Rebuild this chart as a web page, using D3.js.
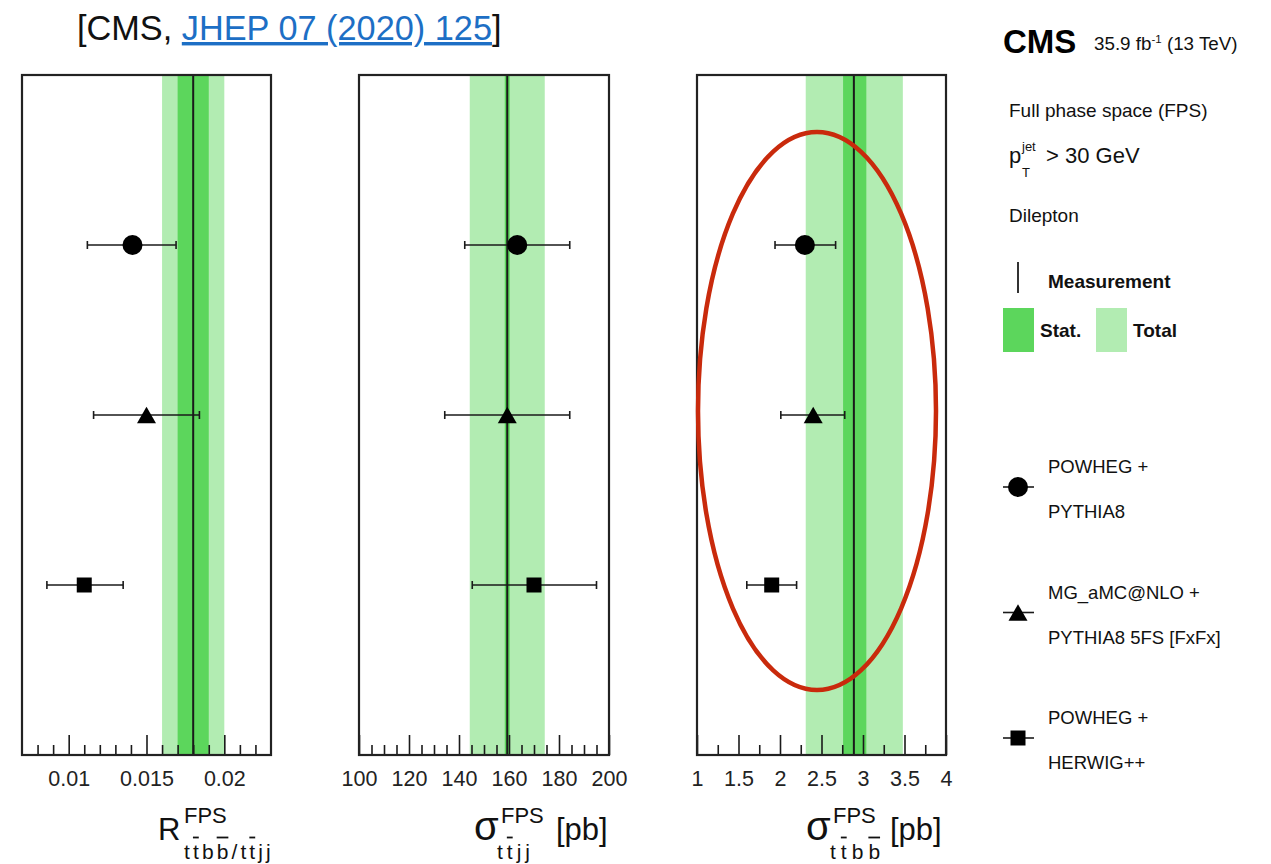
<!DOCTYPE html>
<html>
<head>
<meta charset="utf-8">
<script src="https://cdn.jsdelivr.net/npm/d3@7"></script>
<style>
  body { margin: 0; background: #fff; }
  svg { display: block; }
  text { font-family: "Liberation Sans", Arial, Helvetica, sans-serif; }
</style>
</head>
<body>
<svg id="chart" width="1271" height="864"></svg>
<script>
// ---------------- data ----------------
const models = ["POWHEG + PYTHIA8", "MG_aMC@NLO + PYTHIA8 5FS [FxFx]", "POWHEG + HERWIG++"];
const modelLegendLines = [["POWHEG +", "PYTHIA8"], ["MG_aMC@NLO +", "PYTHIA8 5FS [FxFx]"], ["POWHEG +", "HERWIG++"]];
const modelMarkers = ["circle", "triangle", "square"];

// measured values per observable: R(ttbb/ttjj), sigma(ttjj) [pb], sigma(ttbb) [pb]
const measured   = [0.0180, 159.3, 2.89];
const statLow    = [0.0170, 158.3, 2.76];
const statHigh   = [0.0190, 160.3, 3.04];
const totalLow   = [0.0160, 144.3, 2.31];
const totalHigh  = [0.0200, 174.3, 3.48];

// predictions (central, low, high) per observable, in model order
const predRatio     = [0.0141, 0.0150, 0.0110];
const predRatioLow  = [0.0112, 0.0116, 0.0086];
const predRatioHigh = [0.0169, 0.0184, 0.0135];

const predTtjj     = [163.3, 159.3, 170.0];
const predTtjjLow  = [142.3, 134.3, 145.3];
const predTtjjHigh = [184.3, 184.3, 195.0];

const predTtbb     = [2.30, 2.40, 1.90];
const predTtbbLow  = [1.94, 2.01, 1.60];
const predTtbbHigh = [2.67, 2.78, 2.20];

// axes
const axisDomains = [[0.007, 0.023], [100, 200], [1, 4]];
const majorTicks = [[0.01, 0.015, 0.02], [100, 120, 140, 160, 180, 200], [1, 1.5, 2, 2.5, 3, 3.5, 4]];
const tickLabels = [["0.01", "0.015", "0.02"], ["100", "120", "140", "160", "180", "200"], ["1", "1.5", "2", "2.5", "3", "3.5", "4"]];
const minorSteps = [0.001, 5, 0.25];

const axisTitleMain = ["R", "σ", "σ"];
const axisTitleSup  = ["FPS", "FPS", "FPS"];
const axisTitleSub  = ["ttbb/ttjj", "ttjj", "ttbb"];
const axisTitleSubBars = [[1, 3, 6], [1], [1, 3]];
const axisTitleUnit = ["", "[pb]", "[pb]"];

// ---------------- layout ----------------
const plotTop = 75, plotBottom = 755;
const panelRanges = [[22, 271], [359, 609], [697, 946]];
const statColor = "#5cd65c", totalColor = "#b2ecb2";
const ink = "#1a1a1a";

const svg = d3.select("#chart");

const preds = [
  [predRatio, predRatioLow, predRatioHigh],
  [predTtjj, predTtjjLow, predTtjjHigh],
  [predTtbb, predTtbbLow, predTtbbHigh]
];

const y = d3.scalePoint().domain(models).range([plotTop, plotBottom]).padding(1);

// triangle centred on its bounding box (as ROOT draws marker 22)
const boxTriangle = {
  draw(ctx, size) {
    const s = Math.sqrt(size), h = s * 0.866;
    ctx.moveTo(0, -h / 2);
    ctx.lineTo(s / 2, h / 2);
    ctx.lineTo(-s / 2, h / 2);
    ctx.closePath();
  }
};
const symbolFor = {
  circle: d3.symbol().type(d3.symbolCircle).size(Math.PI * 10 * 10),
  triangle: d3.symbol().type(boxTriangle).size(19 * 19),
  square: d3.symbol().type(d3.symbolSquare).size(15 * 15)
};

const mainX = [158, 474, 806];
const supX  = [184, 501, 833];
const subX  = [184, 497, 830];
const subGap = [3.1, 4, 5];
const unitX = [0, 556, 890];

// subscript written glyph by glyph so barred letters (anti-quarks) get an overline
function barredSubscript(g, str, bars, x0, baseline, size, gap) {
  let cx = x0;
  [...str].forEach((ch, i) => {
    const t = g.append("text").attr("x", cx).attr("y", baseline)
      .attr("font-size", size).attr("fill", "#111").text(ch);
    const w = t.node().getComputedTextLength();
    if (bars.includes(i)) {
      g.append("line")
        .attr("x1", cx).attr("x2", cx + w)
        .attr("y1", baseline - size - 0.5).attr("y2", baseline - size - 0.5)
        .attr("stroke", "#111").attr("stroke-width", 1.8);
    }
    cx += w + gap;
  });
}

panelRanges.forEach((range, p) => {
  const x = d3.scaleLinear().domain(axisDomains[p]).range(range);
  const g = svg.append("g");

  // uncertainty bands
  g.append("rect")
    .attr("x", x(totalLow[p])).attr("y", plotTop)
    .attr("width", x(totalHigh[p]) - x(totalLow[p])).attr("height", plotBottom - plotTop)
    .attr("fill", totalColor);
  g.append("rect")
    .attr("x", x(statLow[p])).attr("y", plotTop)
    .attr("width", x(statHigh[p]) - x(statLow[p])).attr("height", plotBottom - plotTop)
    .attr("fill", statColor);

  // measured value
  g.append("line")
    .attr("x1", x(measured[p])).attr("x2", x(measured[p]))
    .attr("y1", plotTop).attr("y2", plotBottom)
    .attr("stroke", ink).attr("stroke-width", 2);

  // minor ticks
  const [d0, d1] = axisDomains[p];
  const step = minorSteps[p];
  const minors = d3.range(Math.round(d0 / step) + 1, Math.round(d1 / step))
    .map(k => +(k * step).toFixed(6))
    .filter(v => !majorTicks[p].some(m => Math.abs(m - v) < step / 10));

  const minorAxis = g.append("g").attr("transform", `translate(0,${plotBottom})`)
    .call(d3.axisBottom(x).tickValues(minors).tickFormat("").tickSizeInner(-10).tickSizeOuter(0));
  const majorAxis = g.append("g").attr("transform", `translate(0,${plotBottom})`)
    .call(d3.axisBottom(x).tickValues(majorTicks[p]).tickFormat((d, i) => tickLabels[p][i])
      .tickSizeInner(-20).tickSizeOuter(0).tickPadding(16));
  [minorAxis, majorAxis].forEach(a => {
    a.select(".domain").remove();
    a.selectAll(".tick line").attr("stroke", ink).attr("stroke-width", 1.6);
  });
  majorAxis.selectAll(".tick text")
    .attr("font-size", 21.5).attr("fill", "#222")
    .style("font-family", "'Liberation Sans', Arial, sans-serif");

  // frame
  g.append("rect")
    .attr("x", range[0]).attr("y", plotTop)
    .attr("width", range[1] - range[0]).attr("height", plotBottom - plotTop)
    .attr("fill", "none").attr("stroke", "#222").attr("stroke-width", 2.2);

  // predictions: error bars + markers
  const [c, lo, hi] = preds[p];
  models.forEach((m, i) => {
    const yy = y(m);
    g.append("line")
      .attr("x1", x(lo[i])).attr("x2", x(hi[i])).attr("y1", yy).attr("y2", yy)
      .attr("stroke", ink).attr("stroke-width", 1.6);
    [lo[i], hi[i]].forEach(v => {
      g.append("line")
        .attr("x1", x(v)).attr("x2", x(v)).attr("y1", yy - 4).attr("y2", yy + 4)
        .attr("stroke", ink).attr("stroke-width", 1.6);
    });
    g.append("path")
      .attr("d", symbolFor[modelMarkers[i]]())
      .attr("transform", `translate(${x(c[i])},${yy})`)
      .attr("fill", "#000");
  });

  // axis title
  const t = g.append("g");
  t.append("text").attr("x", mainX[p]).attr("y", 840)
    .attr("font-size", p === 0 ? 31 : 40).attr("fill", "#111").text(axisTitleMain[p]);
  t.append("text").attr("x", supX[p]).attr("y", 823)
    .attr("font-size", 22).attr("fill", "#111").text(axisTitleSup[p]);
  barredSubscript(t, axisTitleSub[p], axisTitleSubBars[p], subX[p], 859, 21, subGap[p]);
  if (axisTitleUnit[p]) {
    t.append("text").attr("x", unitX[p]).attr("y", 840)
      .attr("font-size", 31).attr("fill", "#111").text(axisTitleUnit[p]);
  }
});

// annotation ellipse around the ttbb panel
svg.append("ellipse")
  .attr("cx", 817).attr("cy", 411).attr("rx", 119).attr("ry", 279)
  .attr("fill", "none").attr("stroke", "#c92a0c").attr("stroke-width", 4.5);

// ---------------- header ----------------
const title = svg.append("text").attr("x", 77).attr("y", 40).attr("font-size", 34.3).attr("fill", "#111");
title.append("tspan").text("[CMS, ");
title.append("tspan").attr("fill", "#1d6fc5").attr("text-decoration", "underline").text("JHEP 07 (2020) 125");
title.append("tspan").text("]");

// ---------------- legend / labels on the right ----------------
const L = svg.append("g");
L.append("text").attr("x", 1003).attr("y", 53).attr("font-size", 33).attr("font-weight", "bold").attr("fill", "#000").text("CMS");
const lumi = L.append("text").attr("x", 1094).attr("y", 50).attr("font-size", 18.8).attr("fill", "#111");
lumi.append("tspan").text("35.9 fb");
lumi.append("tspan").attr("font-size", 11.5).attr("dy", -7).text("-1");
lumi.append("tspan").attr("dy", 7).text(" (13 TeV)");

L.append("text").attr("x", 1009).attr("y", 117).attr("font-size", 19).attr("fill", "#111").text("Full phase space (FPS)");

L.append("text").attr("x", 1009).attr("y", 163).attr("font-size", 22).attr("fill", "#111").text("p");
L.append("text").attr("x", 1022).attr("y", 151).attr("font-size", 13).attr("fill", "#111").text("jet");
L.append("text").attr("x", 1022).attr("y", 177).attr("font-size", 13).attr("fill", "#111").text("T");
L.append("text").attr("x", 1046).attr("y", 163).attr("font-size", 22).attr("fill", "#111").text("> 30 GeV");

L.append("text").attr("x", 1009).attr("y", 222).attr("font-size", 19).attr("fill", "#111").text("Dilepton");

L.append("line").attr("x1", 1018).attr("x2", 1018).attr("y1", 262).attr("y2", 293)
  .attr("stroke", "#333").attr("stroke-width", 2);
L.append("text").attr("x", 1048).attr("y", 288).attr("font-size", 19).attr("font-weight", "bold").attr("fill", "#111").text("Measurement");

L.append("rect").attr("x", 1003).attr("y", 308).attr("width", 31).attr("height", 44).attr("fill", statColor);
L.append("text").attr("x", 1040).attr("y", 337).attr("font-size", 19).attr("font-weight", "bold").attr("fill", "#111").text("Stat.");
L.append("rect").attr("x", 1096).attr("y", 308).attr("width", 31).attr("height", 44).attr("fill", totalColor);
L.append("text").attr("x", 1133).attr("y", 337).attr("font-size", 19).attr("font-weight", "bold").attr("fill", "#111").text("Total");

const legendY = d3.scalePoint().domain(models).range([487, 738]);
models.forEach((m, i) => {
  const ly = legendY(m);
  L.append("line").attr("x1", 1003).attr("x2", 1034).attr("y1", ly).attr("y2", ly)
    .attr("stroke", ink).attr("stroke-width", 1.6);
  L.append("path").attr("d", symbolFor[modelMarkers[i]]())
    .attr("transform", `translate(1018,${ly})`).attr("fill", "#000");
  L.append("text").attr("x", 1048).attr("y", ly - 14).attr("font-size", 18.5).attr("fill", "#111").text(modelLegendLines[i][0]);
  L.append("text").attr("x", 1048).attr("y", ly + 31).attr("font-size", 18.5).attr("fill", "#111").text(modelLegendLines[i][1]);
});
</script>
</body>
</html>
